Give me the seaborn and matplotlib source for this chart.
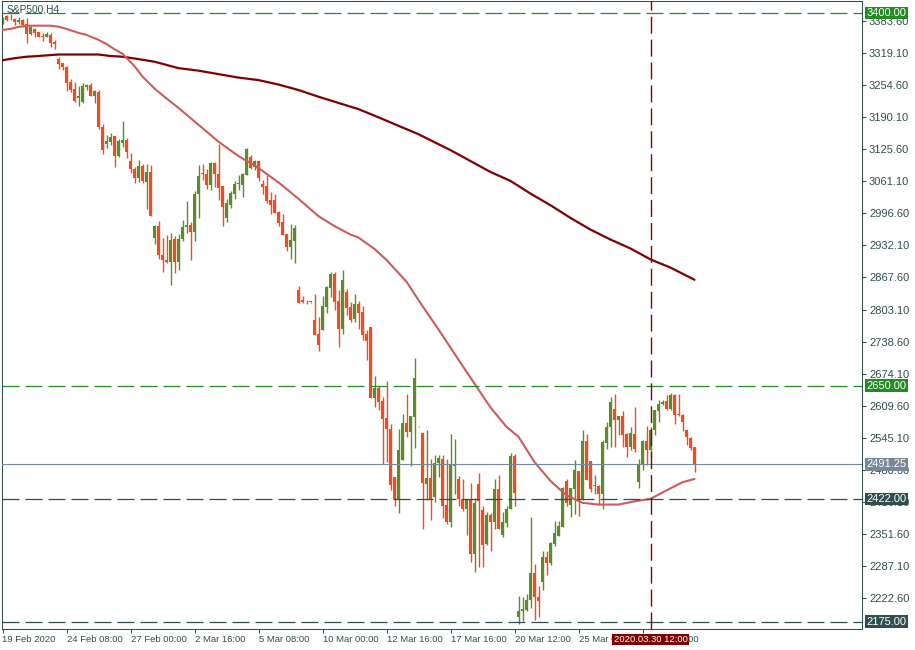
import numpy as np
import pandas as pd
import matplotlib
matplotlib.use("Agg")
import matplotlib.pyplot as plt
import seaborn as sns

bar_open = [
    3379.2, 3394.0, 3389.5, 3387.9, 3381.2, 3385.9, 3377.8, 3357.7, 3367.8, 3361.1,
    3353.7, 3352.3, 3355.7, 3341.5, 3306.6, 3298.6, 3290.5, 3261.0, 3246.8, 3228.7,
    3220.6, 3250.9, 3254.2, 3232.8, 3240.8, 3171.0, 3136.0, 3140.7, 3152.1, 3112.5,
    3138.5, 3144.1, 3101.8, 3085.0, 3068.2, 3091.7, 3060.1, 3079.6, 2947.3, 2970.8,
    2913.7, 2903.6, 2899.0, 2944.6, 2899.0, 2944.6, 2969.5, 2973.0, 2959.4, 3035.3,
    3078.3, 3075.6, 3053.4, 3098.4, 3075.6, 3051.4, 2987.6, 3013.1, 3036.6, 3055.4,
    3054.8, 3074.9, 3109.2, 3090.4, 3101.8, 3055.4, 3051.4, 3023.2, 3023.2, 2999.7,
    2978.9, 2954.7, 2929.2, 2941.2, 2841.8, 2821.7, 2818.4, 2818.0, 2781.4, 2753.2,
    2762.6, 2808.3, 2846.5, 2874.1, 2819.7, 2764.6, 2838.5, 2808.3, 2783.4, 2813.6,
    2798.2, 2753.2, 2768.0, 2624.9, 2645.1, 2618.2, 2585.3, 2563.1, 2465.7, 2418.7,
    2500.6, 2575.2, 2556.4, 2586.6, 2567.8, 2555.0, 2452.3, 2464.4, 2425.4, 2494.6,
    2502.6, 2410.6, 2375.0, 2488.6, 2461.0, 2422.0, 2402.0, 2418.7, 2311.2, 2450.9,
    2399.9, 2331.4, 2388.5, 2375.0, 2440.9, 2350.2, 2373.0, 2401.9, 2507.3, 2183.6,
    2195.7, 2198.4, 2218.5, 2272.9, 2225.3, 2255.5, 2304.5, 2292.4, 2331.4, 2348.2,
    2366.3, 2457.0, 2410.6, 2441.0, 2477.8, 2422.0, 2537.6, 2497.3, 2446.9, 2446.9,
    2432.1, 2534.9, 2566.5, 2603.4, 2581.2, 2588.0, 2553.0, 2526.2, 2553.0, 2455.6,
    2489.2, 2537.6, 2519.4, 2559.8, 2598.7, 2612.2, 2618.8, 2603.4, 2630.3, 2593.3,
    2590.0, 2561.1, 2545.0, 2526.2]
bar_high = [
    3391.3, 3396.0, 3398.0, 3390.0, 3391.3, 3387.9, 3389.3, 3373.8, 3369.0, 3362.0,
    3359.0, 3361.0, 3360.4, 3345.6, 3310.7, 3299.0, 3293.2, 3266.3, 3261.0, 3252.9,
    3258.3, 3257.0, 3258.3, 3246.0, 3246.0, 3177.6, 3154.2, 3157.5, 3153.0, 3147.4,
    3183.0, 3147.5, 3118.6, 3090.4, 3103.8, 3095.7, 3095.7, 3093.7, 2974.2, 2981.5,
    2947.3, 2952.7, 2958.0, 2950.6, 2956.0, 2984.2, 3021.8, 2979.5, 3041.3, 3093.7,
    3095.7, 3085.0, 3100.4, 3100.4, 3136.0, 3051.4, 3026.5, 3041.3, 3061.5, 3073.6,
    3078.3, 3128.0, 3113.9, 3103.8, 3101.8, 3063.5, 3073.6, 3040.0, 3036.6, 3001.7,
    2996.3, 2956.0, 2976.2, 2972.8, 2849.9, 2829.8, 2823.0, 2819.0, 2835.1, 2788.1,
    2829.8, 2849.9, 2878.8, 2878.8, 2841.8, 2883.5, 2845.2, 2818.4, 2835.1, 2820.4,
    2809.6, 2761.2, 2768.0, 2668.5, 2648.4, 2626.9, 2658.5, 2571.8, 2465.7, 2563.1,
    2593.3, 2633.6, 2587.9, 2706.2, 2568.5, 2555.0, 2561.1, 2502.6, 2509.3, 2509.3,
    2509.3, 2502.6, 2553.0, 2543.0, 2469.0, 2462.3, 2418.7, 2453.6, 2424.1, 2474.4,
    2408.6, 2395.2, 2393.2, 2461.0, 2471.0, 2395.0, 2406.6, 2514.0, 2511.4, 2227.3,
    2224.0, 2230.6, 2385.1, 2291.0, 2247.4, 2318.0, 2318.0, 2334.7, 2378.4, 2378.4,
    2445.6, 2462.3, 2444.2, 2499.3, 2477.8, 2559.8, 2551.7, 2497.3, 2470.4, 2449.0,
    2539.6, 2576.5, 2626.9, 2632.3, 2588.0, 2598.7, 2554.4, 2566.5, 2606.8, 2502.6,
    2539.6, 2568.5, 2566.5, 2601.4, 2621.5, 2621.5, 2630.3, 2635.0, 2633.6, 2632.3,
    2593.3, 2561.1, 2546.3, 2526.2]
bar_low = [
    3377.8, 3384.6, 3386.0, 3375.8, 3377.8, 3372.5, 3338.9, 3355.7, 3352.3, 3351.0,
    3344.3, 3351.0, 3332.2, 3328.1, 3287.2, 3285.2, 3243.5, 3240.8, 3220.6, 3212.6,
    3218.0, 3244.8, 3232.0, 3219.3, 3166.9, 3115.9, 3127.3, 3134.0, 3090.3, 3111.0,
    3130.6, 3107.2, 3078.3, 3058.1, 3060.1, 3058.1, 3005.0, 2991.0, 2935.9, 2905.7,
    2878.8, 2897.0, 2853.3, 2876.8, 2882.2, 2941.2, 2957.4, 2902.3, 2940.6, 2987.6,
    3064.8, 3046.7, 3044.7, 3050.0, 3023.2, 2970.8, 2979.5, 3008.4, 3026.5, 3043.3,
    3029.9, 3073.6, 3087.0, 3083.6, 3062.2, 3035.3, 3017.8, 2996.3, 2997.7, 2970.8,
    2952.7, 2920.4, 2905.7, 2896.9, 2816.3, 2817.0, 2813.6, 2817.0, 2751.2, 2719.6,
    2761.2, 2796.2, 2828.4, 2802.9, 2727.6, 2754.5, 2792.8, 2778.0, 2778.0, 2764.6,
    2741.1, 2702.1, 2624.9, 2606.8, 2601.4, 2492.6, 2495.9, 2440.2, 2406.6, 2393.2,
    2500.6, 2546.3, 2487.2, 2524.1, 2567.0, 2361.6, 2418.7, 2379.7, 2415.3, 2465.7,
    2383.1, 2371.6, 2365.0, 2432.0, 2406.6, 2397.2, 2350.2, 2294.4, 2274.3, 2285.7,
    2285.7, 2330.1, 2317.9, 2361.6, 2361.6, 2344.8, 2365.0, 2401.9, 2406.6, 2170.2,
    2175.5, 2197.0, 2202.4, 2178.9, 2183.6, 2238.7, 2269.6, 2289.7, 2326.7, 2346.8,
    2366.3, 2406.6, 2386.4, 2391.8, 2387.1, 2420.0, 2459.0, 2435.5, 2432.1, 2412.0,
    2401.9, 2522.8, 2526.2, 2526.2, 2549.7, 2526.2, 2506.0, 2519.4, 2516.1, 2443.5,
    2480.5, 2489.2, 2506.0, 2549.7, 2576.5, 2610.1, 2601.4, 2601.4, 2573.2, 2588.0,
    2558.4, 2529.5, 2519.4, 2475.8]
bar_close = [
    3389.3, 3385.9, 3389.0, 3381.2, 3385.9, 3375.8, 3357.7, 3372.5, 3360.4, 3352.3,
    3352.3, 3357.0, 3340.2, 3338.2, 3297.2, 3290.5, 3259.6, 3244.8, 3222.7, 3232.7,
    3252.9, 3254.9, 3232.8, 3242.8, 3169.6, 3124.0, 3142.0, 3150.8, 3112.5, 3142.7,
    3143.9, 3120.6, 3085.0, 3068.2, 3091.7, 3061.5, 3079.6, 2992.3, 2970.8, 2913.7,
    2903.6, 2899.0, 2942.6, 2899.0, 2946.0, 2969.5, 2972.8, 2959.4, 3035.3, 3071.6,
    3075.0, 3053.4, 3098.4, 3075.0, 3048.0, 3009.8, 3017.8, 3038.0, 3055.4, 3056.8,
    3076.9, 3125.3, 3089.0, 3101.8, 3068.2, 3050.1, 3021.2, 3013.1, 2997.7, 2977.5,
    2952.7, 2929.2, 2942.6, 2968.2, 2816.3, 2817.6, 2817.6, 2818.0, 2751.2, 2731.0,
    2809.6, 2848.5, 2874.1, 2818.4, 2764.6, 2862.0, 2806.2, 2782.7, 2813.6, 2796.2,
    2751.2, 2739.1, 2624.9, 2645.1, 2616.8, 2581.9, 2561.7, 2448.9, 2422.0, 2520.8,
    2575.2, 2556.4, 2587.9, 2665.9, 2567.8, 2453.6, 2464.4, 2418.7, 2494.6, 2504.7,
    2406.6, 2375.0, 2491.2, 2492.6, 2422.0, 2401.9, 2418.7, 2311.2, 2413.3, 2417.3,
    2330.1, 2388.5, 2375.0, 2440.9, 2361.6, 2375.0, 2401.9, 2507.3, 2433.5, 2197.0,
    2200.4, 2218.5, 2272.9, 2223.9, 2217.2, 2305.8, 2292.4, 2333.4, 2352.9, 2368.3,
    2443.5, 2413.3, 2443.5, 2479.1, 2420.0, 2537.6, 2459.0, 2442.2, 2449.6, 2432.1,
    2536.2, 2566.5, 2616.8, 2581.2, 2588.0, 2549.7, 2526.2, 2554.4, 2521.5, 2490.5,
    2537.6, 2519.4, 2559.8, 2600.0, 2612.2, 2616.8, 2603.4, 2630.3, 2591.3, 2590.0,
    2576.5, 2546.3, 2524.1, 2491.25]

# Medias móviles (rápida = indianred, lenta = granate), leídas por barra
ma_fast_bar = [0, 2, 4, 6, 12, 14, 16, 19, 21, 24, 26, 28, 30, 33, 35, 38, 41, 44,
               49, 54, 59, 64, 69, 74, 79, 83, 87, 89, 93, 96, 101, 105, 109, 114,
               118, 122, 126, 129, 133, 137, 141, 145, 149, 154, 158, 162, 166, 170, 173]
ma_fast_val = [3366, 3368, 3372, 3374.5, 3374.5, 3372.5, 3368, 3360, 3356, 3346,
               3337.5, 3327, 3318, 3293, 3272, 3248, 3228, 3209, 3175, 3141,
               3112, 3088, 3059, 3026, 2991, 2971, 2954, 2948, 2925, 2903,
               2859, 2810, 2763, 2702, 2654, 2606, 2567, 2547, 2496, 2458,
               2429, 2414, 2410.5, 2410.5, 2417, 2422, 2439, 2455.5, 2462]
ma_slow_bar = [0, 3, 6, 9, 14, 24, 27, 30, 33, 38, 44, 49, 54, 59, 64, 69, 74, 79,
               84, 89, 94, 99, 104, 107, 112, 117, 122, 127, 132, 137, 142, 147,
               152, 157, 162, 167, 173]
ma_slow_val = [3305, 3309, 3312, 3313.5, 3316.5, 3316.5, 3313.5, 3312, 3308.5, 3302,
               3289, 3284, 3277, 3270, 3265, 3256, 3245, 3231.5, 3219, 3206.5,
               3190, 3173, 3156, 3144, 3124, 3102, 3080, 3062, 3036.5, 3013,
               2987.5, 2964, 2944, 2926, 2904, 2887.5, 2863]

# Ejes y etiquetas
x_tick_bars = [0, 16, 32, 48, 64, 80, 96, 112, 128, 144, 160]
x_tick_labels = ["19 Feb 2020", "24 Feb 08:00", "27 Feb 00:00", "2 Mar 16:00",
                 "5 Mar 08:00", "10 Mar 00:00", "12 Mar 16:00", "17 Mar 16:00",
                 "20 Mar 12:00", "25 Mar 08:00", "30 Mar 04:00"]
y_ticks = [3383.60, 3319.10, 3254.60, 3190.10, 3125.60, 3061.10, 2996.60, 2932.10,
           2867.60, 2803.10, 2738.60, 2674.10, 2609.60, 2545.10, 2480.60, 2416.10,
           2351.60, 2287.10, 2222.60]
levels_green = [3400.00, 2650.00]
levels_slate = [2422.00, 2175.00]
last_price = 2491.25
vline_bar = 162
vline_label = "2020.03.30 12:00"
symbol = "S&P500,H4"

BULL = "#5b8c2a"
BEAR = "#f04b23"
GREEN = "#228b22"
SLATE = "#2f4f4f"
GRAY = "#778899"
MAROON = "#800000"

sns.set_theme(style="ticks")
plt.rcParams['font.family'] = ['Liberation Sans', 'DejaVu Sans']

fig = plt.figure(figsize=(9.15, 6.5), dpi=100)
ax = fig.add_axes([2 / 915, 21 / 650, 860 / 915, 628 / 650])
ax.set_facecolor("white")

df = pd.DataFrame({"open": bar_open, "high": bar_high, "low": bar_low, "close": bar_close})
df["bar"] = np.arange(len(df))
colores = np.where(df["close"] >= df["open"], BULL, BEAR)

# Mechas y cuerpos
ax.vlines(df["bar"], df["low"], df["high"], colors=colores, lw=1.0, zorder=2)
cuerpo = (df["close"] - df["open"]).abs().clip(lower=1.6)
base = df[["open", "close"]].min(axis=1)
ax.bar(df["bar"], cuerpo, bottom=base, width=0.78, color=colores, lw=0, zorder=2)

# Medias móviles
sns.lineplot(x=ma_slow_bar, y=ma_slow_val, ax=ax, color=MAROON, lw=1.6,
             estimator=None, zorder=3)
sns.lineplot(x=ma_fast_bar, y=ma_fast_val, ax=ax, color="#cd5c5c", lw=1.5,
             estimator=None, zorder=3)

# Niveles horizontales y línea vertical
guiones = (0, (13.6, 4.8))
for p in levels_green:
    ax.axhline(p, color=GREEN, lw=0.9, ls=guiones, zorder=4)
for p in levels_slate:
    ax.axhline(p, color=SLATE, lw=0.9, ls=guiones, zorder=4)
ax.axhline(last_price, color=GRAY, lw=0.8, zorder=4)
ax.axvline(vline_bar, color="#8b0000", lw=1.0, ls=(0, (12.2, 4.3)), zorder=4)

ax.set_xlim(-0.125, 214.875)
ax.set_ylim(2160.0, 3424.2)

# Escala de precios a la derecha
ax.yaxis.tick_right()
ax.set_yticks(y_ticks, labels=[f"{v:.2f}" for v in y_ticks])
ax.set_xticks(x_tick_bars, labels=x_tick_labels, ha="left")
ax.tick_params(axis="y", length=3, width=0.75, pad=2, labelsize=8, colors=SLATE)
ax.tick_params(axis="x", length=3, width=0.75, pad=1.5, labelsize=6.8, colors=SLATE)
ax.set_xlabel("")
ax.set_ylabel("")
for s in ax.spines.values():
    s.set_color(SLATE)
    s.set_linewidth(0.75)

# Etiquetas de precio resaltadas
marcas = [(levels_green[0], GREEN), (levels_green[1], GREEN), (last_price, GRAY),
          (levels_slate[0], SLATE), (levels_slate[1], SLATE)]
for p, c in marcas:
    ax.annotate(f"{p:.2f}", xy=(1, p), xycoords=ax.get_yaxis_transform(),
                xytext=(3.3, 0), textcoords="offset points", ha="left", va="center",
                fontsize=8, color="white", zorder=10, annotation_clip=False,
                bbox=dict(boxstyle="square,pad=0.12", fc=c, ec="none"))

ax.annotate(vline_label, xy=(vline_bar, 0), xycoords=ax.get_xaxis_transform(),
            xytext=(0, -7.6), textcoords="offset points", ha="center", va="center",
            fontsize=6.8, color="white", zorder=10, annotation_clip=False,
            bbox=dict(boxstyle="square,pad=0.15", fc=MAROON, ec="none"))

ax.annotate(symbol, xy=(0, 1), xycoords="axes fraction", xytext=(3, -2.5),
            textcoords="offset points", ha="left", va="top", fontsize=7.3, color=SLATE,
            zorder=10)

fig.savefig("out.png", dpi=100)
